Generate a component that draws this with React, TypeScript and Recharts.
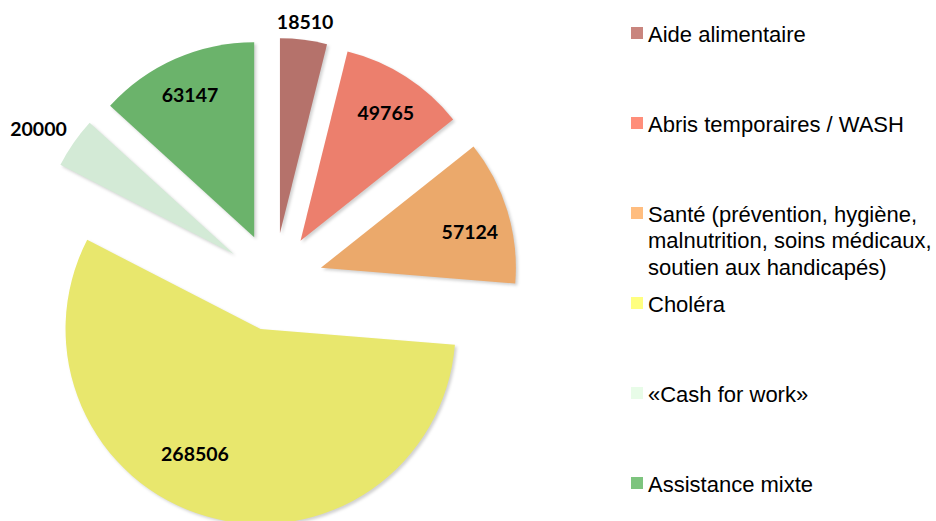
import React from 'react';
import { PieChart, Pie, Cell, Sector, Legend } from 'recharts';

// ---- data ----
const categories = [
  'Aide alimentaire',
  'Abris temporaires / WASH',
  'Santé (prévention, hygiène, malnutrition, soins médicaux, soutien aux handicapés)',
  'Choléra',
  '«Cash for work»',
  'Assistance mixte',
];
const values = [18510, 49765, 57124, 268506, 20000, 63147];
const sliceColors = ['#B5726B', '#EC7F6D', '#EBA96B', '#E8E76D', '#D3EAD6', '#6BB36B'];
const legendColors = ['#C9857E', '#FF8E7A', '#FFBD7F', '#FFFF80', '#E8FCE8', '#7DC47E'];

const data = categories.map((name, i) => ({ name, value: values[i] }));

// ---- style constants ----
const W = 936;
const H = 521;
const CX = 274;
const CY = 282;
const R = 195;
const EXPLODE = 49;
const RAD = Math.PI / 180;
// label placement per slice: distance ratio from exploded apex, clockwise angle nudge (deg)
const labelPlacement = [
  { r: 1.093, da: -0.2 },
  { r: 0.791, da: 0.8 },
  { r: 0.787, da: 3.1 },
  { r: 0.72, da: 11.9 },
  { r: 1.19, da: -2.1 },
  { r: 0.802, da: -0.4 },
];

const renderSlice = (props: any) => {
  const { cx, cy, midAngle } = props;
  const ox = cx + EXPLODE * Math.cos(-midAngle * RAD);
  const oy = cy + EXPLODE * Math.sin(-midAngle * RAD);
  return (
    <Sector
      {...props}
      cx={ox}
      cy={oy}
      stroke="none"
      style={{ filter: 'drop-shadow(2px 2px 1.5px rgba(0,0,0,0.18))' }}
    />
  );
};

const renderLabel = (props: any) => {
  const { cx, cy, midAngle, outerRadius, index, value } = props;
  const ax = cx + EXPLODE * Math.cos(-midAngle * RAD);
  const ay = cy + EXPLODE * Math.sin(-midAngle * RAD);
  const p = labelPlacement[index];
  const a = (midAngle - p.da) * RAD;
  const x = ax + p.r * outerRadius * Math.cos(-a);
  const y = ay + p.r * outerRadius * Math.sin(-a);
  return (
    <text
      x={x}
      y={y}
      textAnchor="middle"
      dominantBaseline="central"
      fontFamily="Lato, 'Open Sans', sans-serif"
      fontWeight={700}
      fontSize={19.5}
      fill="#000"
    >
      {value}
    </text>
  );
};

const renderLegend = () => (
  <div style={{ position: 'relative', width: 316, height: H }}>
    {categories.map((name, i) => (
      <React.Fragment key={name}>
        <div
          style={{
            position: 'absolute',
            left: 11,
            top: 27 + 90 * i,
            width: 12,
            height: 12,
            background: legendColors[i],
          }}
        />
        <div
          style={{
            position: 'absolute',
            left: 28,
            top: 22 + 90 * i,
            width: 287,
            fontFamily: "'Liberation Sans', Arial, sans-serif",
            fontSize: 22,
            lineHeight: '26.4px',
            color: '#000',
          }}
        >
          {name}
        </div>
      </React.Fragment>
    ))}
  </div>
);

export default function App() {
  return (
    <div style={{ position: 'absolute', left: 0, top: 0, width: W, height: H, overflow: 'hidden', background: '#fff' }}>
      <style>{'body{margin:0}'}</style>
      <PieChart width={W} height={H} margin={{ top: 0, right: 0, bottom: 0, left: 0 }}>
        <Pie
          data={data}
          dataKey="value"
          nameKey="name"
          cx={CX}
          cy={CY}
          outerRadius={R}
          startAngle={90}
          endAngle={-270}
          stroke="none"
          shape={renderSlice}
          label={renderLabel}
          labelLine={false}
          isAnimationActive={false}
        >
          {data.map((d, i) => (
            <Cell key={d.name} fill={sliceColors[i]} />
          ))}
        </Pie>
        <Legend
          layout="vertical"
          align="center"
          verticalAlign="middle"
          content={renderLegend}
          wrapperStyle={{ position: 'absolute', left: 620, top: 0, width: 316, height: H }}
        />
      </PieChart>
    </div>
  );
}
